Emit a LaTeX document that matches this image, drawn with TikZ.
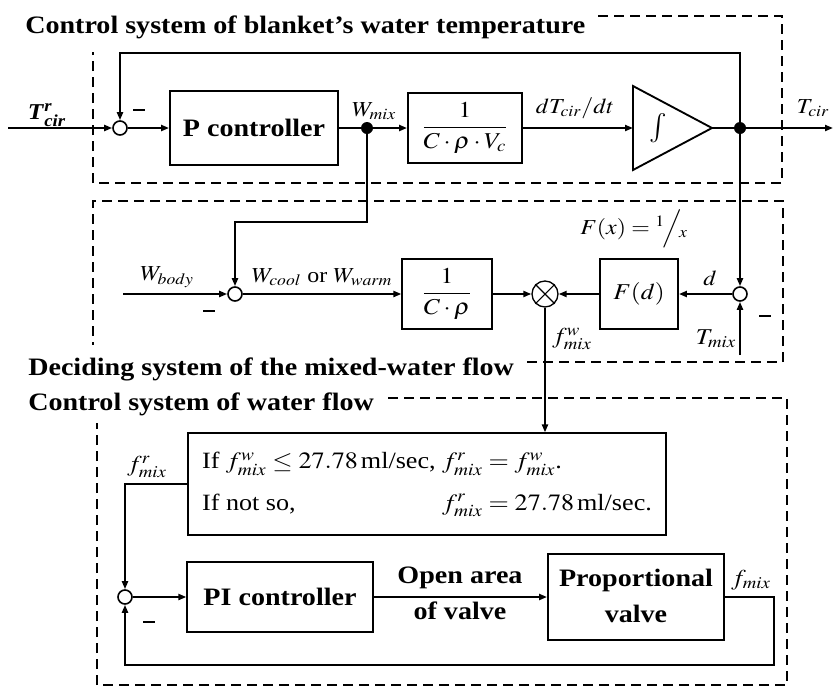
\documentclass[tikz,border=0pt]{standalone}
\usepackage{amsmath}
\usepackage{graphicx}
\usepackage{mathptmx}
\usepackage{fontspec}
\setmainfont{Liberation Serif}
\usetikzlibrary{arrows.meta}
\newcommand{\minusbar}{\rule{9pt}{1.8pt}}
\newcommand{\sx}[1]{\scalebox{1.12}[1]{#1}}
\begin{document}
\begin{tikzpicture}[x=0.75pt,y=-0.75pt,
  conn/.style={line width=1.5pt,-{Triangle[length=6pt,width=4.5pt]}},
  plain/.style={line width=1.5pt},
  blk/.style={draw,line width=1.4pt,inner sep=2pt},
  sumc/.style={circle,draw,line width=1.2pt,minimum size=10.5pt,inner sep=0pt},
  dotc/.style={circle,fill,minimum size=9pt,inner sep=0pt},
  dbox/.style={line width=1.1pt,dash pattern=on 7.5pt off 4.5pt},
  ttl/.style={font=\bfseries\fontsize{18.8}{22}\selectfont,anchor=base west,inner sep=0pt},
  bt/.style={font=\bfseries\fontsize{18.8}{27}\selectfont},
  lbl/.style={font=\fontsize{16}{18}\selectfont,inner sep=1pt},
  lbs/.style={font=\fontsize{17}{19}\selectfont,inner sep=1pt},
  mth/.style={font=\fontsize{17}{19}\selectfont},
]
\useasboundingbox (0,0) rectangle (833,686);
% titles
\node[ttl] (t1) at (25,33) {\sx{Control system of blanket's water temperature}};
\node[ttl] (t2) at (28,375) {\sx{Deciding system of the mixed-water flow}};
\node[ttl] (t3) at (28,410) {\sx{Control system of water flow}};
% dashed frames
\draw[dbox] (598,16) -- (782,16) -- (782,183) -- (93,183) -- (93,52);
\draw[dbox] (527,362) -- (783,362) -- (783,201) -- (93,201) -- (93,345);
\draw[dbox] (388,398) -- (787,398) -- (787,685) -- (97,685) -- (97,423);
% row 1
\coordinate (tin) at (8,128);
\node[sumc] (c1) at (120,128) {};
\node[blk,bt,minimum width=126pt,minimum height=55pt] (pc) at (254,128) {\sx{P controller}};
\node[dotc] (d1) at (367,128) {};
\node[blk,mth,minimum width=85.5pt,minimum height=53pt] (g1) at (465,128) {\sx{$\dfrac{1}{C\cdot\rho\cdot V_c}$}};
\draw[line width=1.4pt] (633,86) -- (712,128) -- (633,170) -- cycle;
\coordinate (intin) at (633,128);
\coordinate (intout) at (712,128);
\node[font=\fontsize{22}{24}\selectfont] (intg) at (658,128) {$\int$};
\node[dotc] (d2) at (740,128) {};
\coordinate (tout) at (833,128);
\coordinate (fb1) at (120,53);
\draw[conn] (tin) -- (c1);
\draw[conn] (c1) -- (pc);
\draw[plain] (pc) -- (d1);
\draw[conn] (d1) -- (g1);
\draw[conn] (g1) -- (intin);
\draw[plain] (intout) -- (d2);
\draw[conn] (d2) -- (tout);
\draw[conn] (d2.center) |- (fb1) -- (c1);
\node[font=\fontsize{17}{19}\selectfont] (lT) at (47,115) {\sx{$\textbf{\textit{T}}^{\textbf{\textit{r}}}_{\textbf{\textit{cir}}}$}};
\node[inner sep=0pt] (m1) at (139,110) {\minusbar};
\node[lbl] (lWmix) at (374,111) {\sx{$W_{mix}$}};
\node[lbl] (ldT) at (575,108) {\sx{$dT_{cir}/dt$}};
\node[lbl] (lTcir) at (813,108) {\sx{$T_{cir}$}};
% row 2
\coordinate (wb) at (123,294);
\node[sumc] (c2) at (235,294) {};
\node[blk,mth,minimum width=67pt,minimum height=53pt] (g2) at (447,294) {\sx{$\dfrac{1}{C\cdot\rho}$}};
\node[circle,draw,line width=1pt,minimum size=19.5pt,inner sep=0pt] (mul) at (545,294) {};
\draw[line width=0.8pt] (mul.north west) -- (mul.south east) (mul.north east) -- (mul.south west);
\node[blk,mth,minimum width=58.5pt,minimum height=52.5pt] (Fd) at (639,294) {\sx{$F(d)$}};
\node[sumc] (c3) at (740,294) {};
\coordinate (tm) at (740,355);
\coordinate (br) at (235,222);
\draw[conn] (d1.center) |- (br) -- (c2);
\draw[conn] (wb) -- (c2);
\draw[conn] (c2) -- (g2);
\draw[conn] (g2) -- (mul);
\draw[conn] (c3) -- (Fd);
\draw[conn] (Fd) -- (mul);
\draw[conn] (d2) -- (c3);
\draw[conn] (tm) -- (c3);
\node[lbl] (lWb) at (167,277) {\sx{$W_{body}$}};
\node[lbl] (lWc) at (322,277) {\sx{$W_{cool}$ or $W_{warm}$}};
\node[lbl] (lF) at (634,229) {\sx{$F(x)={}^{1}\!\Big/\!_{x}$}};
\node[lbl] (ld) at (710,278) {\sx{$d$}};
\node[lbs] (lTm) at (716,339) {\sx{$T_{mix}$}};
\node[lbs] (lfw) at (572,339) {\sx{$f^{w}_{mix}$}};
\node[inner sep=0pt] (m2) at (209,311) {\minusbar};
\node[inner sep=0pt] (m3) at (765,316) {\minusbar};
% row 3
\node[blk,minimum width=359pt,minimum height=76pt,font=\fontsize{17.5}{21}\selectfont] (cond) at (427,484)
  {\sx{\begin{tabular}{@{}l@{\ }l@{}}If $f^{w}_{mix}\le 27.78\,$ml/sec, & $f^{r}_{mix}=f^{w}_{mix}$.\\[10pt]
   If not so, & $f^{r}_{mix}=27.78\,$ml/sec.\end{tabular}}};
\draw[conn] (mul) -- (mul |- cond.north);
\node[sumc] (c4) at (125,597) {};
\node[blk,bt,minimum width=139pt,minimum height=53pt] (pi) at (280,597) {\sx{PI controller}};
\node[blk,bt,minimum width=132pt,minimum height=64pt] (pv) at (636,597) {\sx{\begin{tabular}{@{}c@{}}Proportional\\valve\end{tabular}}};
\node[bt] (loa) at (460,594) {\sx{\begin{tabular}{@{}c@{}}Open area\\of valve\end{tabular}}};
\coordinate (q1) at (774,665);
\draw[conn] (cond.west) -| (c4);
\draw[conn] (c4) -- (pi);
\draw[conn] (pi) -- (pv);
\draw[conn] (pv.east) -| (q1) -| (c4);
\node[lbs] (lfr) at (147,467) {\sx{$f^{r}_{mix}$}};
\node[lbs] (lfm) at (751,580) {\sx{$f_{mix}$}};
\node[inner sep=0pt] (m4) at (149,622) {\minusbar};
\end{tikzpicture}
\end{document}
